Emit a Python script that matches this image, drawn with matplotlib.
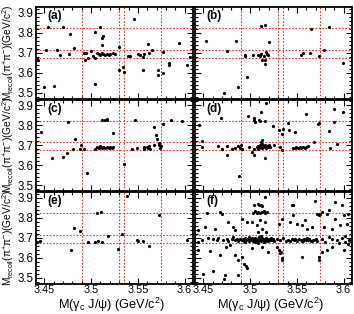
import matplotlib
matplotlib.use("Agg")
import matplotlib.pyplot as plt
from matplotlib.ticker import MultipleLocator

plt.rcParams['font.family'] = ['Liberation Sans', 'DejaVu Sans']
plt.rcParams['mathtext.fontset'] = 'custom'
plt.rcParams['mathtext.rm'] = 'Liberation Sans'
plt.rcParams['mathtext.it'] = 'Liberation Sans:italic'

# ---------------- data ----------------
hlines = [3.823, 3.715, 3.675]
vlines = [3.49, 3.53, 3.535, 3.575]
panel_labels = ['(a)', '(b)', '(c)', '(d)', '(e)', '(f)']
xticks = [3.45, 3.5, 3.55, 3.6]
xticklabels = ['3.45', '3.5', '3.55', '3.6']
yticks = [3.5, 3.6, 3.7, 3.8, 3.9]
yticklabels = ['3.5', '3.6', '3.7', '3.8', '3.9']

a_x = [3.4425, 3.4436, 3.4514, 3.4543, 3.450, 3.4607, 3.4639, 3.4668, 3.4696, 3.4775,
       3.4764, 3.4818, 3.4925, 3.4946, 3.4929, 3.4964, 3.500, 3.5043, 3.5036, 3.5025,
       3.5043, 3.5096, 3.5114, 3.5125, 3.5121, 3.506, 3.5079, 3.5096, 3.5114, 3.5132,
       3.515, 3.5168, 3.5186, 3.5204, 3.5239, 3.5257, 3.5293, 3.530, 3.5336, 3.5354,
       3.5393, 3.5411, 3.5464, 3.550, 3.5518, 3.5554, 3.5554, 3.5571, 3.5607, 3.5621,
       3.565, 3.5714, 3.5714, 3.5768, 3.5768, 3.5829, 3.5829, 3.5936, 3.606, 3.6025]
a_y = [3.675, 3.662, 3.716, 3.826, 3.530, 3.535, 3.714, 3.690, 3.830, 3.793,
       3.695, 3.723, 3.698, 3.700, 3.662, 3.675, 3.711, 3.805, 3.675, 3.682,
       3.542, 3.830, 3.772, 3.785, 3.739, 3.698, 3.695, 3.691, 3.698, 3.695,
       3.691, 3.695, 3.691, 3.695, 3.700, 3.695, 3.731, 3.612, 3.629, 3.604,
       3.683, 3.686, 3.867, 3.695, 3.691, 3.678, 3.612, 3.695, 3.744, 3.698,
       3.714, 3.612, 3.588, 3.706, 3.599, 3.650, 3.637, 3.749, 3.678, 3.640]

b_x = [3.4525, 3.4721, 3.475, 3.4846, 3.4875, 3.4946, 3.4946, 3.4971, 3.5029, 3.5089,
       3.5107, 3.5118, 3.5125, 3.5143, 3.5154, 3.5161, 3.5168, 3.5179, 3.5189, 3.5118,
       3.5161, 3.5207, 3.5546, 3.5561, 3.5643, 3.5654, 3.5732, 3.5786, 3.5846, 3.5993]
b_y = [3.757, 3.501, 3.711, 3.760, 3.527, 3.690, 3.683, 3.580, 3.691, 3.691,
       3.686, 3.695, 3.665, 3.683, 3.665, 3.642, 3.703, 3.695, 3.691, 3.835,
       3.838, 3.752, 3.691, 3.698, 3.700, 3.818, 3.683, 3.716, 3.826, 3.649]

c_x = [3.4461, 3.4586, 3.4704, 3.4739, 3.4757, 3.4811, 3.4829, 3.4893, 3.4882, 3.4925,
       3.4954, 3.5036, 3.5061, 3.5079, 3.5096, 3.5114, 3.5132, 3.515, 3.5168, 3.5186,
       3.5204, 3.5221, 3.5229, 3.5114, 3.515, 3.5168, 3.5175, 3.5229, 3.5357, 3.5436,
       3.5471, 3.5496, 3.5561, 3.5568, 3.5596, 3.5604, 3.5614, 3.5625, 3.5668, 3.5675,
       3.5696, 3.5704, 3.5721, 3.5729, 3.5746, 3.5739, 3.5764, 3.5854, 3.5972]
c_y = [3.765, 3.637, 3.642, 3.659, 3.818, 3.683, 3.733, 3.700, 3.683, 3.683,
       3.560, 3.683, 3.691, 3.686, 3.695, 3.686, 3.691, 3.686, 3.691, 3.686,
       3.691, 3.686, 3.691, 3.828, 3.828, 3.831, 3.828, 3.762, 3.609, 3.683,
       3.828, 3.686, 3.691, 3.683, 3.691, 3.686, 3.696, 3.683, 3.703, 3.790,
       3.752, 3.729, 3.711, 3.700, 3.695, 3.686, 3.807, 3.828, 3.822]

d_x = [3.4454, 3.4489, 3.4489, 3.4661, 3.4686, 3.4696, 3.475, 3.475, 3.4811, 3.4839,
       3.4875, 3.4893, 3.4911, 3.4904, 3.4882, 3.4975, 3.4989, 3.5025, 3.5046, 3.5043,
       3.5043, 3.5054, 3.5046, 3.510, 3.5118, 3.5107, 3.5154, 3.5168, 3.5161, 3.5071,
       3.5089, 3.5096, 3.5107, 3.5118, 3.5125, 3.5132, 3.5143, 3.5154, 3.5161, 3.5168,
       3.5179, 3.5189, 3.5204, 3.5214, 3.5082, 3.5118, 3.5132, 3.5243, 3.525, 3.5304,
       3.5321, 3.5339, 3.5346, 3.5357, 3.5404, 3.5421, 3.5475, 3.5454, 3.5475, 3.5493,
       3.5511, 3.5529, 3.5546, 3.5564, 3.5582, 3.560, 3.560, 3.5618, 3.5679, 3.5725,
       3.5732, 3.5839, 3.585, 3.5893, 3.5893, 3.5929, 3.5989]
d_y = [3.802, 3.721, 3.691, 3.696, 3.835, 3.683, 3.695, 3.650, 3.683, 3.688,
       3.695, 3.686, 3.683, 3.700, 3.548, 3.844, 3.691, 3.667, 3.650, 3.680,
       3.835, 3.818, 3.828, 3.828, 3.864, 3.823, 3.823, 3.910, 3.637, 3.691,
       3.696, 3.686, 3.700, 3.691, 3.708, 3.686, 3.696, 3.691, 3.703, 3.686,
       3.695, 3.691, 3.700, 3.691, 3.683, 3.716, 3.724, 3.798, 3.703, 3.774,
       3.691, 3.757, 3.675, 3.779, 3.811, 3.777, 3.765, 3.688, 3.688, 3.691,
       3.688, 3.691, 3.688, 3.691, 3.688, 3.691, 3.856, 3.696, 3.716, 3.807,
       3.810, 3.770, 3.688, 3.881, 3.815, 3.708, 3.864]

e_x = [3.4418, 3.4454, 3.4782, 3.4818, 3.4882, 3.4971, 3.5036, 3.5071, 3.5114, 3.5061,
       3.5104, 3.5179, 3.5286, 3.5329, 3.5382, 3.5489, 3.550, 3.555, 3.5614, 3.5729,
       3.6025]
e_y = [3.680, 3.685, 3.639, 3.751, 3.734, 3.680, 3.677, 3.685, 3.680, 3.825,
       3.828, 3.708, 3.642, 3.718, 3.910, 3.691, 3.685, 3.685, 3.659, 3.811,
       3.690]

f_x = [3.4536, 3.4679, 3.4696, 3.5043, 3.5079, 3.5096, 3.5118, 3.5132, 3.5029, 3.5054,
       3.5071, 3.5089, 3.5107, 3.5125, 3.5143, 3.5161, 3.5179, 3.5154, 3.5446, 3.5464,
       3.5696, 3.5714, 3.5732, 3.575, 3.5768, 3.5821, 3.5846, 3.5911, 3.5982, 3.600,
       3.6046,
       3.4768, 3.4821, 3.4839, 3.4911, 3.4964, 3.5025, 3.5071, 3.5107, 3.5132, 3.5161,
       3.5168, 3.5089, 3.5304, 3.5339, 3.5429, 3.5464, 3.550, 3.5554, 3.5589, 3.5607,
       3.5661, 3.5786, 3.5875, 3.5911, 3.5964, 3.6036, 3.4518, 3.4625, 3.4439,
       3.4446, 3.4482, 3.4554, 3.4607, 3.4643, 3.4661, 3.4714, 3.475, 3.4768, 3.4804,
       3.4839, 3.4821, 3.4857, 3.4875,
       3.489, 3.491, 3.492, 3.493, 3.494, 3.495, 3.496, 3.497, 3.499, 3.500,
       3.501, 3.502, 3.503, 3.504, 3.505, 3.506, 3.507, 3.508, 3.509, 3.510,
       3.511, 3.512, 3.513, 3.514, 3.515, 3.516, 3.517, 3.518, 3.519, 3.520,
       3.521, 3.522, 3.523, 3.524, 3.526, 3.505, 3.508, 3.512, 3.515, 3.499,
       3.495, 3.510, 3.503, 3.517, 3.506,
       3.541, 3.543, 3.545, 3.547, 3.549, 3.550, 3.552, 3.554, 3.555, 3.557,
       3.558, 3.560, 3.562, 3.563, 3.565, 3.567, 3.568, 3.570, 3.572, 3.548,
       3.556, 3.561, 3.566,
       3.5804, 3.5875, 3.5929, 3.5982, 3.6018, 3.6054, 3.5768, 3.584, 3.595, 3.602,
       3.605, 3.5286, 3.5321, 3.5357, 3.5382,
       3.4446, 3.4571, 3.4679, 3.4739, 3.4786, 3.4839, 3.4875, 3.4911, 3.4954, 3.4964,
       3.4929, 3.4868, 3.4721, 3.4732, 3.4607, 3.450, 3.5286, 3.5304, 3.5321, 3.5339,
       3.5346, 3.5332, 3.5554, 3.5732, 3.5739, 3.5768, 3.5821, 3.600, 3.5875, 3.5018,
       3.5125, 3.5196]
f_y = [3.823, 3.828, 3.820, 3.864, 3.869, 3.861, 3.864, 3.858, 3.823, 3.831,
       3.825, 3.828, 3.823, 3.828, 3.831, 3.825, 3.828, 3.902, 3.861, 3.864,
       3.885, 3.820, 3.811, 3.816, 3.828, 3.820, 3.836, 3.877, 3.861, 3.811,
       3.820,
       3.779, 3.754, 3.737, 3.795, 3.779, 3.779, 3.762, 3.787, 3.746, 3.779,
       3.729, 3.729, 3.770, 3.795, 3.779, 3.811, 3.770, 3.762, 3.787, 3.746,
       3.754, 3.754, 3.746, 3.795, 3.762, 3.770, 3.754, 3.746, 3.737,
       3.680, 3.688, 3.700, 3.693, 3.688, 3.700, 3.688, 3.696, 3.685, 3.693,
       3.688, 3.705, 3.696, 3.685,
       3.693, 3.688, 3.696, 3.685, 3.691, 3.700, 3.688, 3.693, 3.683, 3.696,
       3.690, 3.701, 3.686, 3.693, 3.698, 3.688, 3.695, 3.683, 3.703, 3.691,
       3.696, 3.686, 3.700, 3.690, 3.695, 3.685, 3.698, 3.691, 3.686, 3.696,
       3.690, 3.700, 3.688, 3.693, 3.685, 3.680, 3.675, 3.708, 3.677, 3.705,
       3.677, 3.688, 3.690, 3.691, 3.693,
       3.690, 3.686, 3.693, 3.688, 3.691, 3.685, 3.695, 3.688, 3.691, 3.686,
       3.693, 3.688, 3.690, 3.696, 3.686, 3.691, 3.688, 3.693, 3.686, 3.696,
       3.683, 3.698, 3.683,
       3.680, 3.696, 3.688, 3.700, 3.680, 3.688, 3.693, 3.705, 3.672, 3.708,
       3.667, 3.696, 3.688, 3.700, 3.685,
       3.639, 3.634, 3.614, 3.655, 3.663, 3.614, 3.589, 3.606, 3.561, 3.548,
       3.568, 3.512, 3.496, 3.512, 3.532, 3.519, 3.655, 3.639, 3.622, 3.598,
       3.589, 3.631, 3.606, 3.589, 3.606, 3.631, 3.639, 3.639, 3.655, 3.647,
       3.655, 3.631]

panels_x = [a_x, b_x, c_x, d_x, e_x, f_x]
panels_y = [a_y, b_y, c_y, d_y, e_y, f_y]

# ---------------- layout ----------------
W, H = 354, 314
fig = plt.figure(figsize=(W / 100, H / 100), dpi=100)

col_left = [36, 195]
col_w = 157
row_top = [7, 99.5, 192]
row_h = 91.5

xlim = (3.441, 3.609)
ylim = (3.472, 3.928)
line_kw = dict(color='#f03030', lw=0.8, ls=(0, (1.5, 1.5)), zorder=1)

for i in range(6):
    r, c = divmod(i, 2)
    l = col_left[c] / W
    b = 1 - (row_top[r] + row_h) / H
    ax = fig.add_axes([l, b, col_w / W, row_h / H])
    ax.set_xlim(*xlim)
    ax.set_ylim(*ylim)
    for yv in hlines:
        ax.axhline(yv, **line_kw)
    for xv in vlines:
        ax.axvline(xv, **line_kw)
    ax.plot(panels_x[i], panels_y[i], 'o', color='black', ms=2.3, mew=0, zorder=3)
    ax.set_xticks(xticks)
    ax.set_yticks(yticks)
    ax.xaxis.set_minor_locator(MultipleLocator(0.01))
    ax.yaxis.set_minor_locator(MultipleLocator(0.02))
    ax.tick_params(which='both', direction='in', top=True, right=True, width=0.8)
    ax.tick_params(which='major', length=4.5)
    ax.tick_params(which='minor', length=2.3)
    if r == 2:
        ax.set_xticklabels(xticklabels, fontsize=7.8)
        ax.tick_params(axis='x', pad=1.0)
    else:
        ax.set_xticklabels([])
    if c == 0:
        ax.set_yticklabels(yticklabels, fontsize=8.3)
        ax.tick_params(axis='y', pad=1.5)
    else:
        ax.set_yticklabels([])
    for s in ax.spines.values():
        s.set_linewidth(1.3)
    ax.text(0.075, 0.90, panel_labels[i], transform=ax.transAxes, fontsize=8.5,
            fontweight='bold', ha='left', va='center')

# axis titles
ylab = 'M$_{\\mathrm{recoil}}$(π$^{+}$π$^{-}$)(GeV/c$^{2}$)'
for r in range(3):
    yc = 1 - (row_top[r] + row_h / 2) / H
    fig.text(8.5 / W, yc, ylab, rotation=90, ha='center', va='center', fontsize=7.3)

xlab = 'M(γ$_{\\mathrm{c}}$ J/ψ) (GeV/c$^{2}$)'
for c in range(2):
    xc = (col_left[c] + col_w / 2 - 3) / W
    fig.text(xc, 0.5 / H, xlab, ha='center', va='bottom', fontsize=9.2)

fig.savefig('out.png', dpi=100)
